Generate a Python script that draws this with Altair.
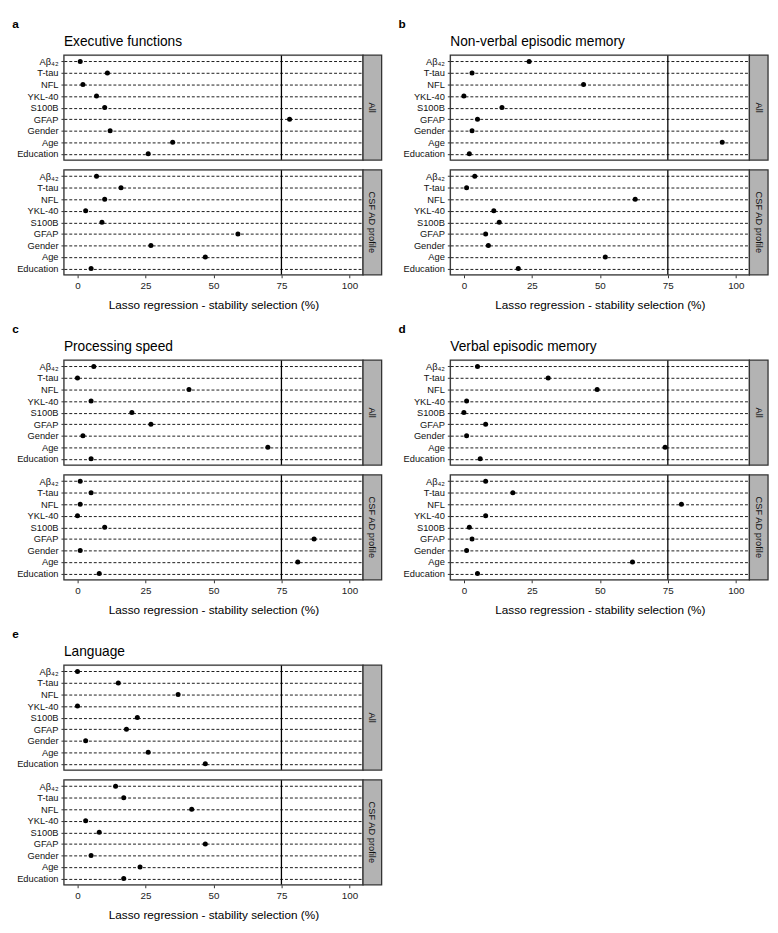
import altair as alt
import pandas as pd

# ---------------- data ----------------
variables = ["Aβ₄₂", "T-tau", "NFL", "YKL-40", "S100B", "GFAP", "Gender", "Age", "Education"]
groups = ["All", "CSF AD profile"]
panel_titles = ["Executive functions", "Non-verbal episodic memory", "Processing speed",
                "Verbal episodic memory", "Language"]
panel_letters = ["a", "b", "c", "d", "e"]
threshold = [75]
x_ticks = [0, 25, 50, 75, 100]
x_domain = [-5, 105]

exec_all = [1, 11, 2, 7, 10, 78, 12, 35, 26]
exec_csf = [7, 16, 10, 3, 9, 59, 27, 47, 5]
nonverbal_all = [24, 3, 44, 0, 14, 5, 3, 95, 2]
nonverbal_csf = [4, 1, 63, 11, 13, 8, 9, 52, 20]
speed_all = [6, 0, 41, 5, 20, 27, 2, 70, 5]
speed_csf = [1, 5, 1, 0, 10, 87, 1, 81, 8]
verbal_all = [5, 31, 49, 1, 0, 8, 1, 74, 6]
verbal_csf = [8, 18, 80, 8, 2, 3, 1, 62, 5]
language_all = [0, 15, 37, 0, 22, 18, 3, 26, 47]
language_csf = [14, 17, 42, 3, 8, 47, 5, 23, 17]

panel_values = [
    (exec_all, exec_csf),
    (nonverbal_all, nonverbal_csf),
    (speed_all, speed_csf),
    (verbal_all, verbal_csf),
    (language_all, language_csf),
]

# ---------------- style ----------------
FONT = "Liberation Sans"
W, H, STRIP = 305, 107, 19
DARK = "#333333"


def facet(title, group, vals, bottom):
    df = pd.DataFrame({"Variable": variables, "Selection": vals})
    yenc = alt.Y(
        "Variable:N", sort=variables, title=None,
        scale=alt.Scale(padding=0.55),
        axis=alt.Axis(grid=True, gridDash=[3, 2], gridColor="#000000", gridWidth=1,
                      gridOpacity=0.9,
                      domain=False, ticks=True, tickSize=3, tickColor=DARK,
                      labelPadding=3, labelFontSize=9.5, labelColor="#111111",
                      labelFont=FONT),
    )
    if bottom:
        xaxis = alt.Axis(values=x_ticks, grid=False, domain=False, tickSize=3,
                         tickColor=DARK, labelPadding=3, labelFontSize=10,
                         labelFont=FONT, labelColor="#222222",
                         title="Lasso regression - stability selection (%)",
                         titleFont=FONT, titleFontSize=12, titleFontWeight="normal",
                         titlePadding=9, titleColor="black")
    else:
        xaxis = None
    xscale = alt.Scale(domain=x_domain, nice=False, zero=False)
    xenc = alt.X("Selection:Q", scale=xscale, axis=xaxis)

    thr = alt.Chart(pd.DataFrame({"Selection": threshold})).mark_rule(
        color="black", strokeWidth=1.3).encode(x=xenc)
    pts = alt.Chart(df).mark_circle(size=26, color="black", opacity=1).encode(x=xenc, y=yenc)

    sdf = pd.DataFrame({"label": [group]})
    frame = alt.Chart(sdf).mark_rect(fillOpacity=0, stroke=DARK, strokeWidth=1.3).encode(
        x=alt.value(0), x2=alt.value(W), y=alt.value(0), y2=alt.value(H))
    rect = alt.Chart(sdf).mark_rect(fill="#B3B3B3", stroke=DARK, strokeWidth=1.3).encode(
        x=alt.value(W), x2=alt.value(W + STRIP), y=alt.value(0), y2=alt.value(H))
    txt = alt.Chart(sdf).mark_text(angle=90, font=FONT, fontSize=9.5, color="#111111",
                                   align="center", baseline="middle").encode(
        text="label:N", x=alt.value(W + STRIP / 2), y=alt.value(H / 2))

    layer = alt.layer(thr, pts, frame, rect, txt).properties(width=W, height=H)
    if title is not None:
        layer = layer.properties(title=alt.TitleParams(
            text=title, anchor="start", frame="group", fontSize=14,
            fontWeight="normal", font=FONT, color="black", offset=6))
    return layer


def panel(i):
    a, c = panel_values[i]
    top = facet(panel_titles[i], groups[0], a, False)
    bot = facet(None, groups[1], c, True)
    return alt.vconcat(top, bot, spacing=6).properties(
        title=alt.TitleParams(text=panel_letters[i], anchor="start", fontSize=12,
                              fontWeight="bold", font=FONT, color="black",
                              dx=-4, offset=4))


chart = alt.vconcat(
    alt.hconcat(panel(0), panel(1), spacing=15),
    alt.hconcat(panel(2), panel(3), spacing=15),
    panel(4),
    spacing=11,
).properties(
    padding={"left": 4, "top": 0, "right": 0, "bottom": 0}
).configure_view(stroke=DARK, strokeWidth=1.2).configure(font=FONT)

chart.save("out.html", embed_options={"renderer": "svg", "actions": False})
